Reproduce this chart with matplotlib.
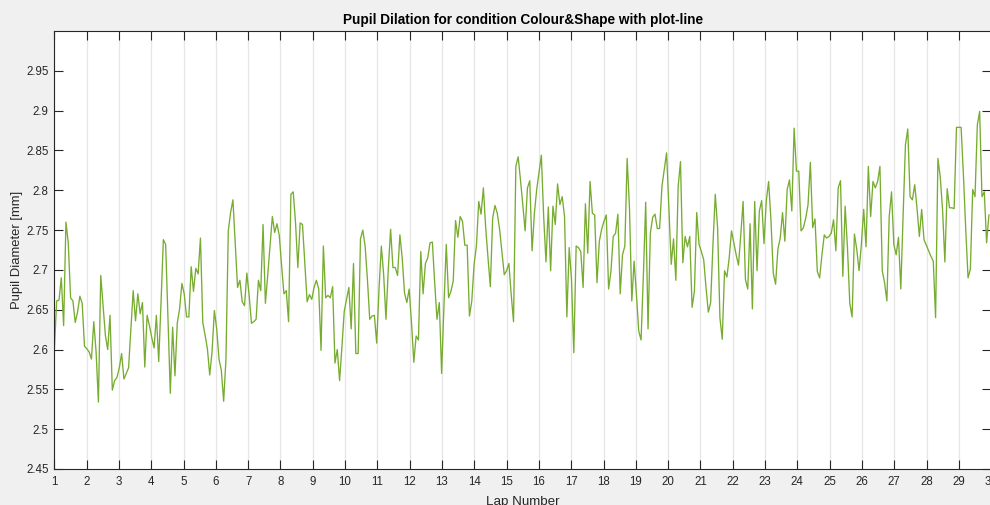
import numpy as np
import matplotlib.pyplot as plt
from matplotlib.ticker import FormatStrFormatter

plt.rcParams['font.family'] = ['Liberation Sans', 'DejaVu Sans']

# pupil diameter per sample [mm]
pupil_mm = [
    2.600, 2.661, 2.662, 2.690, 2.630, 2.760, 2.734, 2.665, 2.661, 2.634, 2.647, 2.667, 2.658, 2.604,
    2.601, 2.597, 2.588, 2.635, 2.597, 2.534, 2.693, 2.655, 2.618, 2.600, 2.643, 2.549, 2.561, 2.565,
    2.577, 2.595, 2.563, 2.570, 2.577, 2.626, 2.674, 2.636, 2.670, 2.645, 2.659, 2.578, 2.643, 2.630,
    2.615, 2.602, 2.643, 2.585, 2.659, 2.738, 2.732, 2.638, 2.545, 2.628, 2.567, 2.633, 2.651, 2.683,
    2.670, 2.641, 2.641, 2.704, 2.673, 2.702, 2.695, 2.740, 2.634, 2.618, 2.601, 2.568, 2.597, 2.649,
    2.626, 2.588, 2.574,
    2.535, 2.588, 2.749, 2.772, 2.788, 2.734, 2.678, 2.687, 2.660, 2.655, 2.696, 2.668, 2.633, 2.635,
    2.638, 2.687, 2.674, 2.757, 2.658, 2.693, 2.730, 2.767, 2.747, 2.758, 2.743, 2.705, 2.670, 2.674,
    2.635, 2.795, 2.798, 2.759, 2.703, 2.759, 2.757, 2.709, 2.660, 2.669, 2.663, 2.678, 2.687, 2.676,
    2.599, 2.730, 2.665, 2.668, 2.665, 2.679, 2.583, 2.600, 2.561, 2.603, 2.648, 2.663, 2.678, 2.626,
    2.708, 2.595, 2.595, 2.739, 2.750, 2.730, 2.688, 2.638, 2.642, 2.643, 2.608, 2.676, 2.730,
    2.694, 2.638, 2.701, 2.751, 2.703, 2.703, 2.693, 2.744, 2.715, 2.671, 2.659, 2.676, 2.634, 2.584,
    2.617, 2.612, 2.723, 2.670, 2.708, 2.715, 2.734, 2.735, 2.684, 2.638, 2.659, 2.570, 2.655, 2.732,
    2.665, 2.673, 2.686, 2.762, 2.741, 2.767, 2.761, 2.731, 2.731, 2.642, 2.661, 2.707, 2.730, 2.786,
    2.770, 2.803, 2.753, 2.715, 2.679, 2.765, 2.781, 2.771, 2.751, 2.722, 2.694, 2.699, 2.708, 2.669,
    2.635, 2.830, 2.842, 2.813, 2.782, 2.749, 2.803, 2.812, 2.724, 2.771, 2.801, 2.823, 2.844, 2.767,
    2.710, 2.779, 2.699, 2.780, 2.757, 2.808, 2.782, 2.792, 2.767, 2.641, 2.728, 2.688, 2.596, 2.730,
    2.728, 2.723, 2.678, 2.783,
    2.721, 2.811, 2.771, 2.769, 2.684, 2.736, 2.751, 2.761, 2.769, 2.676, 2.698, 2.742, 2.746, 2.770,
    2.670, 2.719, 2.730, 2.840, 2.778, 2.661, 2.711, 2.669, 2.623, 2.612, 2.694, 2.785, 2.626, 2.746,
    2.766, 2.770, 2.752, 2.752, 2.805, 2.826, 2.847, 2.778, 2.707, 2.739, 2.687, 2.805, 2.836, 2.709,
    2.742, 2.729, 2.742,
    2.653, 2.673, 2.772, 2.732, 2.723, 2.713, 2.678, 2.647, 2.659, 2.732, 2.795, 2.753, 2.640, 2.613,
    2.699, 2.691, 2.715, 2.749, 2.734, 2.719, 2.706, 2.744, 2.786, 2.688, 2.676, 2.758, 2.651, 2.786,
    2.699, 2.774, 2.787, 2.733, 2.787, 2.811, 2.763, 2.696, 2.682, 2.726, 2.740, 2.772, 2.736, 2.801,
    2.813, 2.774, 2.878, 2.824,
    2.824, 2.749, 2.753, 2.765, 2.782, 2.835, 2.753, 2.764, 2.698, 2.690, 2.719, 2.744, 2.740, 2.742,
    2.746, 2.763, 2.724, 2.803, 2.812, 2.692, 2.780, 2.728, 2.658, 2.641, 2.745, 2.726, 2.699, 2.732,
    2.776, 2.729, 2.830, 2.767, 2.811, 2.803, 2.811, 2.830, 2.699, 2.684, 2.661, 2.767, 2.798, 2.732,
    2.719, 2.741, 2.676, 2.769, 2.857, 2.877, 2.792, 2.788, 2.807, 2.777, 2.742, 2.776, 2.738, 2.731,
    2.724, 2.717, 2.711, 2.640, 2.840, 2.817, 2.776, 2.710, 2.802, 2.778, 2.778, 2.777, 2.879, 2.879,
    2.879, 2.819, 2.751, 2.690, 2.701, 2.801, 2.792, 2.882, 2.899, 2.792, 2.798, 2.734, 2.769,
]
lap_start, lap_end = 1, 29.93  # first / last sample position on the lap axis
lap_ticks = list(range(1, 31))
y_ticks = [2.45, 2.5, 2.55, 2.6, 2.65, 2.7, 2.75, 2.8, 2.85, 2.9, 2.95]

laps = np.linspace(lap_start, lap_end, len(pupil_mm))

fig = plt.figure(figsize=(9.9, 5.05), dpi=100, facecolor='#f0f0f0')
# axes run slightly past the right edge, like the cropped screenshot
ax = fig.add_axes([0.0549, 0.0713, 0.9463, 0.8673])
ax.set_facecolor('white')

ax.plot(laps, pupil_mm, color='#77ac30', lw=0.95)

ax.set_xlim(1, 30)
ax.set_ylim(2.45, 3.0)
ax.set_xticks(lap_ticks)
ax.set_yticks(y_ticks)
ax.yaxis.set_major_formatter(FormatStrFormatter('%g'))
ax.grid(axis='x', color='#e6e6e6', lw=0.9)
ax.set_axisbelow(True)

ax.tick_params(direction='in', length=6.5, width=0.8, colors='#262626',
               labelsize=8.3, top=True, right=True)
ax.tick_params(axis='x', pad=5)
ax.tick_params(axis='y', pad=4)
for s in ax.spines.values():
    s.set_color('#262626')
    s.set_linewidth(0.8)

ax.set_title('Pupil Dilation for condition Colour&Shape with plot-line',
             fontsize=9.8, fontweight='bold', color='black', pad=5)
ax.set_xlabel('Lap Number', fontsize=9.6, color='#262626', labelpad=6)
ax.set_ylabel('Pupil Diameter [mm]', fontsize=9.4, color='#262626', labelpad=2.5)

fig.savefig('out.png', dpi=100, facecolor=fig.get_facecolor())
